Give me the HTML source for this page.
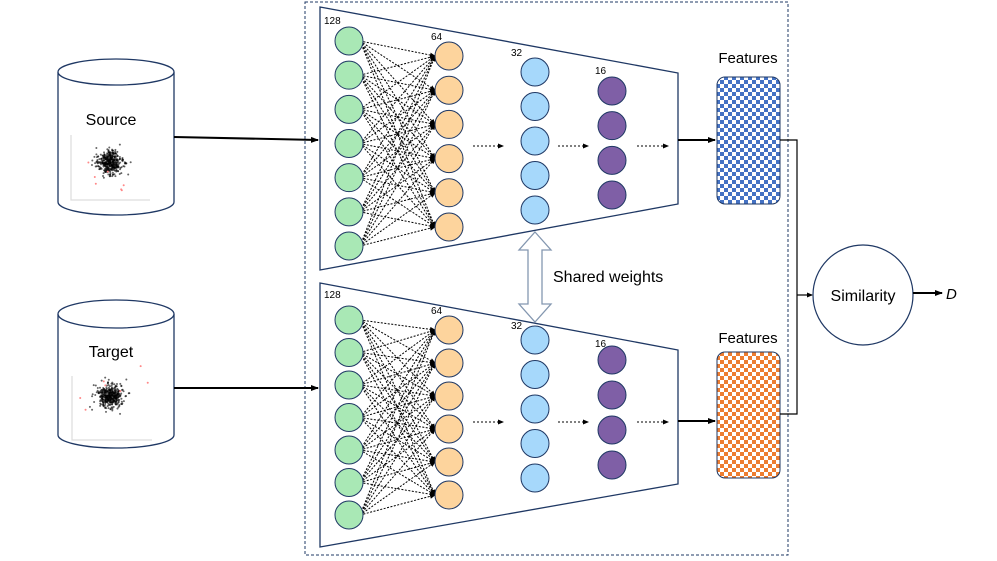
<!DOCTYPE html>
<html><head><meta charset="utf-8"><style>
body{margin:0;background:#fff}
svg{display:block}
text{font-family:"Liberation Sans",sans-serif}
</style></head><body>
<svg id="s" width="997" height="561" viewBox="0 0 997 561" xmlns="http://www.w3.org/2000/svg">
<defs>
<pattern id="pb" width="8" height="8" patternUnits="userSpaceOnUse"><rect width="8" height="8" fill="#fff"/><rect width="4" height="4" fill="#4472c4"/><rect x="4" y="4" width="4" height="4" fill="#4472c4"/></pattern>
<pattern id="po" width="8" height="8" patternUnits="userSpaceOnUse"><rect width="8" height="8" fill="#fff"/><rect width="4" height="4" fill="#ed7d31"/><rect x="4" y="4" width="4" height="4" fill="#ed7d31"/></pattern>
<marker id="ah" markerWidth="8" markerHeight="8" refX="7" refY="4" orient="auto" markerUnits="userSpaceOnUse"><path d="M0,1 L8,4 L0,7 z" fill="#000"/></marker>
<marker id="as" markerWidth="6" markerHeight="6" refX="5" refY="3" orient="auto" markerUnits="userSpaceOnUse"><path d="M0,0.5 L6,3 L0,5.5 z" fill="#000"/></marker>
</defs>
<rect x="305" y="2" width="483" height="553" fill="none" stroke="#1f3864" stroke-dasharray="3,2" stroke-width="1"/>
<g fill="#fff" stroke="#1f3864" stroke-width="1.3">
<path d="M58,72 L58,202 A58,13 0 0 0 174,202 L174,72"/>
<ellipse cx="116" cy="72" rx="58" ry="13"/>
<path d="M58,314 L58,435 A58,13 0 0 0 174,435 L174,314"/>
<ellipse cx="116" cy="314" rx="58" ry="14"/>
</g>
<text x="111" y="125" font-size="16" text-anchor="middle">Source</text>
<text x="111" y="357" font-size="16" text-anchor="middle">Target</text>
<g stroke="#ddd" stroke-width="1.2" fill="none">
<polyline points="71,135 71,200 150,200"/>
<polyline points="72,376 72,440 152,440"/>
</g>
<g id="sc"></g>
<line x1="174" y1="137" x2="318" y2="140" stroke="#000" stroke-width="2" marker-end="url(#ah)"/>
<line x1="174" y1="388" x2="318" y2="388" stroke="#000" stroke-width="2" marker-end="url(#ah)"/>
<polygon points="320,7 678,73 678,204 320,270" fill="#fff" stroke="#1f3864" stroke-width="1.3"/>
<polygon points="320,283 678,350 678,484 320,547" fill="#fff" stroke="#1f3864" stroke-width="1.3"/>
<g id="net"></g>
<path d="M535,232 L551,250 L542,250 L542,304 L551,304 L535,322 L519,304 L528,304 L528,250 L519,250 z" fill="#fff" stroke="#8497b0" stroke-width="1.3"/>
<text x="553" y="282" font-size="16">Shared weights</text>
<text x="748" y="63" font-size="15" text-anchor="middle">Features</text>
<rect x="717" y="77" width="63" height="127" rx="8" fill="url(#pb)" stroke="#1f3864" stroke-width="1"/>
<text x="748" y="343" font-size="15" text-anchor="middle">Features</text>
<rect x="717" y="352" width="63" height="126" rx="8" fill="url(#po)" stroke="#1f3864" stroke-width="1"/>
<line x1="678" y1="140" x2="715" y2="140" stroke="#000" stroke-width="2" marker-end="url(#ah)"/>
<line x1="678" y1="421" x2="715" y2="421" stroke="#000" stroke-width="2" marker-end="url(#ah)"/>
<polyline points="780,140 797,140 797,414 780,414" fill="none" stroke="#000" stroke-width="1.2"/>
<line x1="797" y1="295" x2="812" y2="295" stroke="#000" stroke-width="1.2" marker-end="url(#as)"/>
<circle cx="863" cy="295" r="50" fill="#fff" stroke="#1f3864" stroke-width="1.2"/>
<text x="863" y="301" font-size="16" text-anchor="middle">Similarity</text>
<line x1="913" y1="293" x2="942" y2="293" stroke="#000" stroke-width="2" marker-end="url(#ah)"/>
<text x="946" y="299" font-size="15" font-style="italic">D</text>
</svg>
<script>
var NS="http://www.w3.org/2000/svg";
function el(p,t,a){var e=document.createElementNS(NS,t);for(var k in a)e.setAttribute(k,a[k]);p.appendChild(e);return e;}
var net=document.getElementById("net");
function build(g,o,off){
 var G=[],O=[],B=[],P=[];
 for(var i=0;i<7;i++)G.push(g[0]+i*(g[1]-g[0])/6);
 for(var i=0;i<6;i++)O.push(o[0]+i*(o[1]-o[0])/5);
 var b0=off[0],p0=off[1];
 for(var i=0;i<5;i++)B.push(b0[0]+i*(b0[1]-b0[0])/4);
 for(var i=0;i<4;i++)P.push(p0[0]+i*(p0[1]-p0[0])/3);
 for(var i=0;i<7;i++)for(var j=0;j<6;j++){
  el(net,"line",{x1:360,y1:G[i],x2:435,y2:O[j],stroke:"#000","stroke-width":1,"stroke-dasharray":"2,1.5","marker-end":"url(#as)"});
 }
 G.forEach(function(y){el(net,"circle",{cx:349,cy:y,r:14,fill:"#a9e8b5",stroke:"#1f3864","stroke-width":1});});
 O.forEach(function(y){el(net,"circle",{cx:449,cy:y,r:14,fill:"#fdd49d",stroke:"#1f3864","stroke-width":1});});
 B.forEach(function(y){el(net,"circle",{cx:535,cy:y,r:14,fill:"#a6d8fb",stroke:"#1f3864","stroke-width":1});});
 P.forEach(function(y){el(net,"circle",{cx:612,cy:y,r:14,fill:"#7f5fa6",stroke:"#1f3864","stroke-width":1});});
 var my=off[2];
 [[473,503],[558,588],[637,668]].forEach(function(a){el(net,"line",{x1:a[0],y1:my,x2:a[1],y2:my,stroke:"#000","stroke-width":1,"stroke-dasharray":"2,2","marker-end":"url(#as)"});});
 var L=off[3];
 [["128",324,L[0]],["64",431,L[1]],["32",511,L[2]],["16",595,L[3]]].forEach(function(t){var e=el(net,"text",{x:t[1],y:t[2],"font-size":10});e.textContent=t[0];});
}
build([41,246],[56,227],[[72,210],[91,195],146,[24,40,56,74]]);
build([320,515],[330,495],[[340,478],[360,465],422,[298,314,329,347]]);
var sc=document.getElementById("sc");
var seed=3;function r(){seed=(seed*16807)%2147483647;return seed/2147483647;}
[[110,162],[110,396]].forEach(function(c){
 for(var i=0;i<400;i++){var a=r()*6.283,d=Math.sqrt(-2*Math.log(r()+1e-6))*6;
  el(sc,"circle",{cx:c[0]+Math.cos(a)*d,cy:c[1]+Math.sin(a)*d,r:1,fill:"#000","fill-opacity":0.6});}
 for(var i=0;i<7;i++)el(sc,"circle",{cx:c[0]-35+r()*80,cy:c[1]-30+r()*70,r:1,fill:"#f88"});
});
</script>
</body></html>
